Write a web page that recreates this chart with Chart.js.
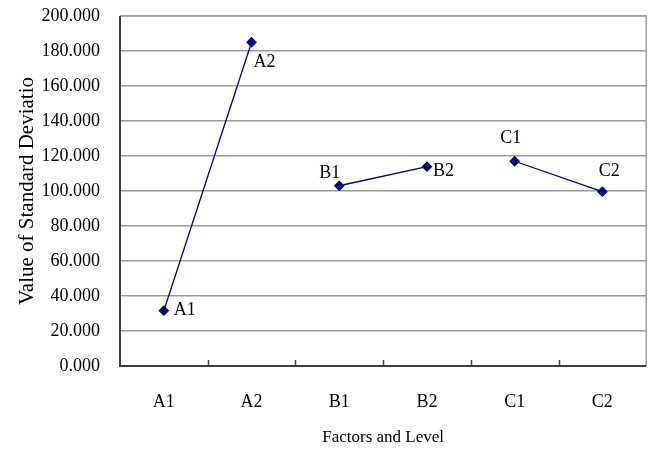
<!DOCTYPE html>
<html><head><meta charset="utf-8">
<script src="https://cdn.jsdelivr.net/npm/chart.js@4/dist/chart.umd.min.js"></script>
<style>html,body{margin:0;padding:0;background:#fff}#wrap{width:652px;height:452px}</style>
</head><body><div id="wrap"><canvas id="c"></canvas></div>
<script>
const categories = ["A1","A2","B1","B2","C1","C2"];
const factorA = [31.6, 185.0, null, null, null, null];
const factorB = [null, null, 103.0, 113.9, null, null];
const factorC = [null, null, null, null, 117.0, 99.6];
const yTicks = [0,20,40,60,80,100,120,140,160,180,200];

const FONT = "'Liberation Serif', 'Times New Roman', serif";
const NAVY = "#00007f";
const labelOffsets = { A1:[10,0,'left'], A2:[2,20,'left'], B1:[1,-12,'right'], B2:[6,5,'left'], C1:[-4,-23,'center'], C2:[7,-20,'center'] };

const pointLabels = {
  id:'pointLabels',
  afterDatasetsDraw(chart){
    const ctx = chart.ctx;
    ctx.save();
    ctx.font = "18px " + FONT;
    ctx.fillStyle = "#000";
    ctx.textBaseline = "middle";
    chart.data.datasets.forEach((ds, di) => {
      const meta = chart.getDatasetMeta(di);
      ds.data.forEach((v, i) => {
        if (v === null) return;
        const el = meta.data[i];
        const name = categories[i];
        const o = labelOffsets[name];
        ctx.textAlign = o[2];
        ctx.fillText(name, el.x + o[0], el.y + o[1]);
      });
    });
    ctx.restore();
  }
};

const frame = {
  id:'frame',
  beforeDatasetsDraw(chart){
    const {ctx, chartArea:a, scales:{x}} = chart;
    ctx.save();
    ctx.strokeStyle = "#a0a0a0"; ctx.lineWidth = 1.5;
    ctx.beginPath();
    ctx.moveTo(a.left, a.top); ctx.lineTo(a.right, a.top); ctx.lineTo(a.right, a.bottom);
    ctx.stroke();
    ctx.strokeStyle = "#404040"; ctx.lineWidth = 2;
    ctx.beginPath();
    ctx.moveTo(a.left, a.top); ctx.lineTo(a.left, a.bottom); ctx.lineTo(a.right, a.bottom);
    ctx.stroke();
    ctx.lineWidth = 1.5;
    const half = (x.getPixelForValue(1) - x.getPixelForValue(0)) / 2;
    ctx.beginPath();
    for (let i = 1; i < categories.length; i++) {
      const px = Math.round(x.getPixelForValue(i) - half) + 0.5;
      ctx.moveTo(px, a.bottom); ctx.lineTo(px, a.bottom - 6);
    }
    ctx.stroke();
    ctx.restore();
  }
};

function mk(data){
  return { data, borderColor: NAVY, backgroundColor: NAVY, borderWidth: 1.3,
    pointStyle:'rectRot', pointRadius:4.5, pointHoverRadius:4.5, spanGaps:false, fill:false, tension:0 };
}

new Chart(document.getElementById('c'), {
  type:'line',
  data:{ labels: categories, datasets:[mk(factorA), mk(factorB), mk(factorC)] },
  options:{
    responsive:true, maintainAspectRatio:false, animation:false,
    layout:{ padding:{ top:16, right:4, left:0, bottom:0 } },
    plugins:{ legend:{display:false}, tooltip:{enabled:false} },
    scales:{
      x:{
        offset:true,
        grid:{ display:false, drawTicks:false },
        border:{ display:false },
        ticks:{ font:{family:FONT, size:18}, color:"#000", padding:25, maxRotation:0 },
        title:{ display:true, text:"Factors and Level", font:{family:FONT, size:17}, color:"#000", padding:{top:8, bottom:4} },
        afterFit(s){ s.height = 86; s.paddingLeft = 0; s.paddingRight = 0; }
      },
      y:{
        min:0, max:200,
        afterBuildTicks(s){ s.ticks = yTicks.map(v => ({value:v})); },
        grid:{ color:"#9a9a9a", lineWidth:1.5, drawTicks:false },
        border:{ display:false },
        ticks:{ font:{family:FONT, size:18}, color:"#000", padding:20, callback:v => Number(v).toFixed(3) },
        title:{ display:true, text:"Value of Standard Deviatio", font:{family:FONT, size:21}, color:"#000", padding:{top:15, bottom:0} },
        afterFit(s){ s.width = 120; s.paddingTop = 0; s.paddingBottom = 0; }
      }
    }
  },
  plugins:[frame, pointLabels]
});
</script></body></html>
